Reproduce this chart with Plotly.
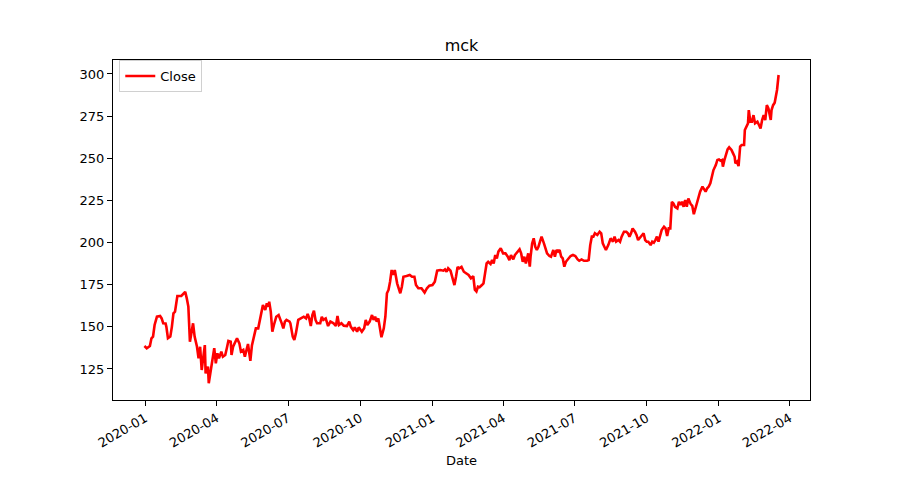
import pandas as pd
import plotly.graph_objects as go

# Days after 2020-01-01 and closing price
day_offsets = [-1, 2, 6, 8, 10, 12, 15, 19, 21, 23, 26, 27, 29, 32, 34, 36, 38, 39, 41, 46, 48, 51, 53, 55, 57, 59, 61, 63, 66, 68, 70, 72, 74, 76, 77, 80, 81, 84, 86, 88, 90, 92, 94, 97, 99, 102, 104, 106, 109, 110, 112, 117, 120, 122, 125, 127, 131, 134, 136, 139,
               141, 144, 146, 148, 150, 153, 155, 157, 158, 160, 162, 164, 167, 170, 172, 174, 176, 178, 180, 184, 185, 188, 190, 192, 195, 199, 202, 205, 207, 209, 211, 213, 215, 217, 219, 223, 225, 227, 230, 233, 236, 240, 243, 245, 247, 250, 253, 257, 260, 262, 265, 267, 270, 272,
               274, 276, 279, 281, 283, 286, 289, 291, 293, 295, 297, 299, 301, 304, 306, 308, 310, 312, 314, 316, 318, 321, 323, 325, 327, 329, 333, 337, 340, 343, 345, 348, 352, 356, 359, 362, 366, 369, 372, 376, 380, 382, 384, 386, 389, 392, 394, 396, 398, 400, 403, 406, 409, 412, 415, 418, 420, 422, 424, 426,
               429, 431, 433, 435, 437, 440, 442, 444, 446, 448, 450, 453, 456, 459, 462, 464, 466, 469, 471, 474, 477, 479, 481, 483, 485, 488, 490, 491, 493, 495, 497, 499, 501, 503, 505, 508, 510, 512, 515, 517, 520, 522, 524, 526, 528, 530, 532, 534, 536, 539, 542, 545, 548, 551, 553, 556, 559, 563, 565,
               567, 569, 571, 573, 576, 579, 581, 583, 585, 587, 590, 593, 596, 598, 600, 603, 605, 607, 610, 613, 615, 617, 619, 621, 624, 626, 628, 630, 633, 635, 637, 639, 641, 644, 646, 648, 650, 652, 654, 656, 658, 661, 663, 665, 667, 669, 671, 673, 675, 678, 680, 682, 684, 686, 688, 690, 692,
               695, 697, 699, 701, 703, 705, 707, 710, 712, 714, 716, 718, 720, 722, 724, 727, 729, 731, 733, 735, 736, 738, 740, 742, 744, 747, 749, 751, 752, 754, 756, 758, 760, 763, 764, 766, 768, 769, 771, 773, 775, 777, 780, 782, 784, 786, 788, 790, 792, 794, 797, 798, 800, 802, 803, 805, 807]

close = [138.6, 137.3, 138.6, 143.2, 144.2, 151.1, 156.0, 156.4, 155.0, 152.1, 152.0, 150.0, 143.2, 144.2, 150.0, 158.0, 159.0, 162.0, 168.3, 168.3, 169.5, 170.8, 166.9, 162.0, 141.2, 147.1, 152.1, 144.2, 138.2, 131.3, 138.2, 124.4, 132.3, 139.2, 122.4, 126.4, 116.5, 124.4, 131.3, 137.3, 128.4, 134.3, 131.3, 135.3, 132.3, 133.3, 137.3, 141.6, 141.2, 133.3, 138.2, 143.2, 140.2, 135.3, 136.3, 132.3, 139.8, 129.8, 139.0, 145.0,
         149.1, 149.1, 154.1, 158.0, 163.0, 160.0, 164.0, 162.0, 164.9, 159.0, 147.1, 151.1, 156.0, 157.0, 155.0, 152.1, 149.1, 153.1, 154.1, 153.1, 152.1, 144.2, 142.2, 146.1, 154.1, 155.0, 156.0, 155.0, 157.6, 155.0, 150.5, 157.0, 159.6, 154.1, 152.1, 152.1, 156.0, 154.1, 155.0, 150.5, 153.1, 152.1, 150.5, 156.4, 151.1, 152.1, 150.7, 150.5, 153.1, 150.0, 148.1, 149.7, 147.1, 149.7,
         148.6, 147.1, 149.1, 154.1, 151.1, 153.1, 157.0, 154.1, 156.0, 153.1, 155.0, 148.1, 143.8, 149.1, 156.0, 169.9, 171.9, 176.8, 183.7, 180.8, 183.7, 175.8, 172.9, 169.9, 173.8, 179.7, 180.2, 180.8, 179.7, 179.7, 174.8, 172.9, 172.9, 170.3, 172.9, 174.4, 174.8, 176.8, 183.3, 183.7, 183.3, 184.1, 182.7, 184.7, 183.3, 178.8, 174.8, 179.7, 185.6, 184.7, 185.6, 182.7, 181.7, 180.8, 178.8, 180.0, 172.0, 171.0, 173.8, 173.5,
         174.8, 175.8, 181.7, 187.6, 188.6, 187.3, 189.6, 187.6, 192.6, 190.6, 194.6, 196.6, 193.6, 193.6, 191.6, 189.6, 192.6, 190.0, 192.6, 194.6, 196.0, 193.6, 188.6, 191.6, 187.6, 193.6, 185.7, 191.6, 199.5, 202.5, 197.5, 195.6, 197.5, 200.5, 203.5, 199.5, 195.6, 193.6, 192.0, 191.6, 195.6, 191.6, 195.6, 194.6, 195.6, 191.6, 190.6, 185.7, 188.6, 190.0, 192.0, 192.6, 192.0, 190.0, 189.2, 190.0, 189.2, 189.2, 189.6,
         198.5, 203.5, 203.5, 205.5, 204.5, 206.4, 205.5, 199.5, 197.5, 195.6, 198.5, 202.5, 200.5, 203.5, 200.5, 201.5, 200.5, 203.5, 206.4, 206.4, 205.5, 203.5, 205.5, 208.4, 206.4, 204.5, 201.5, 202.5, 204.5, 205.5, 201.5, 200.5, 200.5, 198.5, 200.5, 199.9, 201.5, 203.5, 200.5, 204.5, 207.4, 209.4, 208.4, 203.9, 208.4, 208.4, 224.2, 223.2, 221.2, 220.3, 224.2, 222.3, 224.2, 221.2, 225.2, 221.2, 226.2,
         222.8, 221.8, 216.8, 220.3, 223.2, 227.7, 230.2, 233.2, 231.2, 230.2, 232.2, 233.2, 235.2, 240.1, 243.0, 246.0, 249.0, 249.3, 248.5, 249.0, 245.0, 249.0, 252.9, 255.3, 256.5, 254.9, 252.9, 250.9, 247.0, 248.0, 245.4, 256.9, 257.9, 257.9, 266.8, 268.7, 270.7, 278.6, 271.7, 271.7, 275.6, 270.7, 271.7, 269.7, 267.7, 272.7, 275.6, 272.7, 281.5, 279.6, 272.7, 278.6, 281.5, 282.9, 285.5, 290.5, 299.4]

y_ticks = [125, 150, 175, 200, 225, 250, 275, 300]
x_ticks = ["2020-01-01", "2020-04-01", "2020-07-01", "2020-10-01", "2021-01-01",
           "2021-04-01", "2021-07-01", "2021-10-01", "2022-01-01", "2022-04-01"]
x_tick_labels = ["2020-01", "2020-04", "2020-07", "2020-10", "2021-01",
                 "2021-04", "2021-07", "2021-10", "2022-01", "2022-04"]

dates = pd.Timestamp("2020-01-01") + pd.to_timedelta(day_offsets, unit="D")

fig = go.Figure()
fig.add_trace(go.Scatter(x=dates, y=close, mode="lines", name="Close",
                         line=dict(color="red", width=2.6)))

font = "DejaVu Sans"
fig.update_layout(
    width=900, height=500,
    margin=dict(l=105, r=98, t=52, b=108, autoexpand=False),
    paper_bgcolor="white", plot_bgcolor="white",
    font=dict(family=font, size=13, color="black"),
    title=dict(text="mck", x=0.5, xref="paper", y=0.915, yref="container",
               xanchor="center", yanchor="bottom", font=dict(size=16, family=font)),
    showlegend=True,
    legend=dict(x=0.009, y=1.0, xanchor="left", yanchor="top",
                bgcolor="rgba(255,255,255,0.8)", bordercolor="#d0d0d0", borderwidth=1,
                font=dict(size=13, family=font), tracegroupgap=0, itemwidth=30),
)
fig.update_xaxes(
    range=["2019-11-21", "2022-04-27"],
    tickvals=x_ticks, ticktext=x_tick_labels, tickangle=-30,
    ticks="outside", ticklen=5, tickcolor="black", tickwidth=1,
    showline=True, linecolor="black", linewidth=1, mirror=True,
    showgrid=False, zeroline=False,
    title=dict(text="Date", font=dict(size=13, family=font), standoff=6),
)
fig.update_yaxes(
    range=[106.6, 308.3],
    tickvals=y_ticks,
    ticks="outside", ticklen=5, tickcolor="black", tickwidth=1,
    showline=True, linecolor="black", linewidth=1, mirror=True,
    showgrid=False, zeroline=False,
)

fig.write_html("out.html")
